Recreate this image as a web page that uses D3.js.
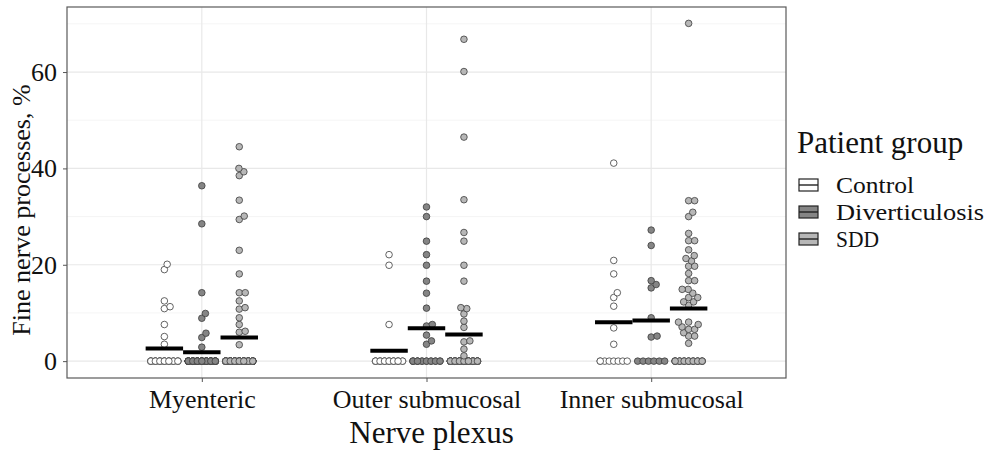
<!DOCTYPE html>
<html>
<head>
<meta charset="utf-8">
<script src="https://cdn.jsdelivr.net/npm/d3@7"></script>
<style>
  html, body { margin: 0; padding: 0; background: #fff; }
  svg { display: block; }
  text { font-family: "Liberation Serif", "Times New Roman", serif; fill: #111; }
</style>
</head>
<body>
<svg id="chart" width="994" height="450"></svg>
<script>
// Nerve plexus categories and patient groups
const plexuses = ["Myenteric", "Outer submucosal", "Inner submucosal"];
const groups = ["Control", "Diverticulosis", "SDD"];
const yTicks = [0, 20, 40, 60];

// Non-zero fine nerve process percentages per plexus and group
const myentericControl = [20.1, 19.0, 12.5, 11.3, 10.9, 7.6, 5.1, 3.5];
const myentericDiverticulosis = [36.4, 28.5, 14.2, 9.9, 8.9, 5.8, 4.9, 2.9];
const myentericSDD = [44.5, 40.0, 39.3, 38.5, 33.4, 30.1, 29.4, 23.0, 18.1, 14.2, 14.2,
  12.5, 11.1, 10.8, 9.0, 7.6, 6.2, 6.0, 3.4];
const outerControl = [22.1, 19.9, 7.6];
const outerDiverticulosis = [32.0, 30.0, 24.9, 22.1, 19.9, 16.6, 14.1, 11.0, 7.6, 7.3, 5.4, 4.2, 3.5];
const outerSDD = [66.8, 60.1, 46.5, 33.5, 26.7, 24.9, 19.9, 16.6, 11.1, 10.9, 9.8, 8.3, 7.0,
  4.2, 4.0, 2.5, 1.1];
const innerControl = [41.1, 20.9, 18.1, 14.2, 13.2, 11.4, 6.9, 3.5];
const innerDiverticulosis = [27.2, 24.0, 16.7, 15.9, 15.2, 9.0, 5.2, 5.0];
const innerSDD = [70.1, 33.3, 33.3, 30.9, 30.0, 26.5, 25.0, 25.0, 23.1, 21.9, 21.3, 20.8,
  19.7, 19.7, 18.2, 16.7, 16.7, 14.9, 14.9, 14.1, 13.2, 13.2, 12.3, 12.3, 11.6,
  8.1, 8.1, 7.6, 7.1, 6.6, 6.6, 5.9, 5.2, 5.2, 3.7];

// Number of samples with no fine nerve processes (0 %), rows = plexus, cols = group
const zeroCounts = [
  [26, 53, 61],
  [20, 16, 47],
  [8, 6, 22]
];

const nonZero = [
  [myentericControl, myentericDiverticulosis, myentericSDD],
  [outerControl, outerDiverticulosis, outerSDD],
  [innerControl, innerDiverticulosis, innerSDD]
];

const fills = { "Control": "#ffffff", "Diverticulosis": "#858585", "SDD": "#b7b7b7" };

const svg = d3.select("#chart");
const W = 994, H = 450;
const panel = { left: 67, right: 786, top: 7, bottom: 378 };

svg.append("rect").attr("width", W).attr("height", H).attr("fill", "#fff");

const x = d3.scalePoint().domain(plexuses).range([panel.left, panel.right]).padding(0.6);
const step = x.step();
const dodge = d3.scaleBand().domain(groups).range([-0.25 * step, 0.25 * step]);
const y = d3.scaleLinear().domain([-3.5, 73.5]).range([panel.bottom, panel.top]);

const g = svg.append("g");

// grid
const minor = [10, 30, 50, 70];
g.selectAll("line.minor").data(minor).join("line")
  .attr("x1", panel.left).attr("x2", panel.right)
  .attr("y1", d => y(d)).attr("y2", d => y(d))
  .attr("stroke", "#f2f2f2").attr("stroke-width", 0.8);
g.selectAll("line.major").data(yTicks).join("line")
  .attr("x1", panel.left).attr("x2", panel.right)
  .attr("y1", d => y(d)).attr("y2", d => y(d))
  .attr("stroke", "#e8e8e8").attr("stroke-width", 1.2);
g.selectAll("line.vgrid").data(plexuses).join("line")
  .attr("x1", d => x(d)).attr("x2", d => x(d))
  .attr("y1", panel.top).attr("y2", panel.bottom)
  .attr("stroke", "#e8e8e8").attr("stroke-width", 1.2);

// points
const r = 3.3;
const collide = 6.0;
const zeroSpread = 13.5;

plexuses.forEach((p, pi) => {
  groups.forEach((grp, gi) => {
    const cx = x(p) + dodge(grp) + dodge.bandwidth() / 2;
    const vals = nonZero[pi][gi];
    const nz = zeroCounts[pi][gi];
    const pts = [];

    // zero-valued samples laid out along a short row
    const slots = Math.min(nz, 7);
    for (let i = 0; i < nz; i++) {
      const k = i % slots;
      const off = slots > 1 ? -zeroSpread + (2 * zeroSpread) * k / (slots - 1) : 0;
      pts.push({ x: cx + off, y: y(0) });
    }

    // swarm layout for the rest
    const placed = [];
    vals.slice().sort((a, b) => a - b).forEach(v => {
      const py = y(v);
      const cands = [0];
      placed.forEach(q => {
        const dy = Math.abs(q.y - py);
        if (dy < collide) {
          const dx = Math.sqrt(collide * collide - dy * dy);
          cands.push(q.dx + dx, q.dx - dx);
        }
      });
      const ok = cands.filter(c => placed.every(q => {
        const dd = Math.hypot(q.dx - c, q.y - py);
        return dd >= collide - 1e-6;
      }));
      ok.sort((a, b) => Math.abs(a) - Math.abs(b) || b - a);
      const dx = ok[0];
      placed.push({ dx, y: py });
    });
    placed.forEach(q => pts.push({ x: cx + q.dx, y: q.y }));

    g.append("g").selectAll("circle").data(pts).join("circle")
      .attr("cx", d => d.x).attr("cy", d => d.y).attr("r", r)
      .attr("fill", fills[grp]).attr("stroke", "#3c3c3c").attr("stroke-width", 0.8);

    // group mean bar
    const all = vals.concat(new Array(nz).fill(0));
    const mean = d3.mean(all);
    g.append("line")
      .attr("x1", cx - dodge.bandwidth() / 2).attr("x2", cx + dodge.bandwidth() / 2)
      .attr("y1", y(mean)).attr("y2", y(mean))
      .attr("stroke", "#000").attr("stroke-width", 4);
  });
});

// panel border
svg.append("rect")
  .attr("x", panel.left).attr("y", panel.top)
  .attr("width", panel.right - panel.left).attr("height", panel.bottom - panel.top)
  .attr("fill", "none").attr("stroke", "#5a5a5a").attr("stroke-width", 1.2);

// y axis
const yAxis = svg.append("g").attr("transform", `translate(${panel.left},0)`)
  .call(d3.axisLeft(y).tickValues(yTicks).tickSize(4).tickPadding(6));
yAxis.select(".domain").remove();
yAxis.selectAll(".tick line").attr("stroke", "#555");
yAxis.selectAll(".tick text").attr("font-size", 26).attr("fill", "#111")
  .attr("font-family", "Liberation Serif");

// x axis
const xAxis = svg.append("g").attr("transform", `translate(0,${panel.bottom})`)
  .call(d3.axisBottom(x).tickSize(4).tickPadding(8));
xAxis.select(".domain").remove();
xAxis.selectAll(".tick line").attr("stroke", "#555");
xAxis.selectAll(".tick text").attr("font-size", 26).attr("fill", "#111")
  .attr("font-family", "Liberation Serif");

// axis titles
svg.append("text")
  .attr("transform", `translate(30,210) rotate(-90)`)
  .attr("text-anchor", "middle").attr("font-size", 26)
  .text("Fine nerve processes, %");
svg.append("text")
  .attr("x", (panel.left + panel.right) / 2 + 5).attr("y", 443)
  .attr("text-anchor", "middle").attr("font-size", 31)
  .text("Nerve plexus");

// legend
const leg = svg.append("g").attr("transform", "translate(797,0)");
leg.append("text").attr("x", 0).attr("y", 153).attr("font-size", 31).text("Patient group");
const labelWidths = { "Control": 78, "Diverticulosis": 148, "SDD": 43 };
groups.forEach((grp, i) => {
  const cy = 185 + i * 27;
  leg.append("rect").attr("x", 2).attr("y", cy - 6).attr("width", 19).attr("height", 12)
    .attr("fill", fills[grp]).attr("stroke", "#222").attr("stroke-width", 1.2);
  leg.append("line").attr("x1", 2).attr("x2", 21).attr("y1", cy).attr("y2", cy)
    .attr("stroke", "#222").attr("stroke-width", 1.4);
  leg.append("text").attr("x", 39).attr("y", cy + 8).attr("font-size", 24)
    .attr("textLength", labelWidths[grp]).attr("lengthAdjust", "spacingAndGlyphs")
    .text(grp);
});
</script>
</body>
</html>
